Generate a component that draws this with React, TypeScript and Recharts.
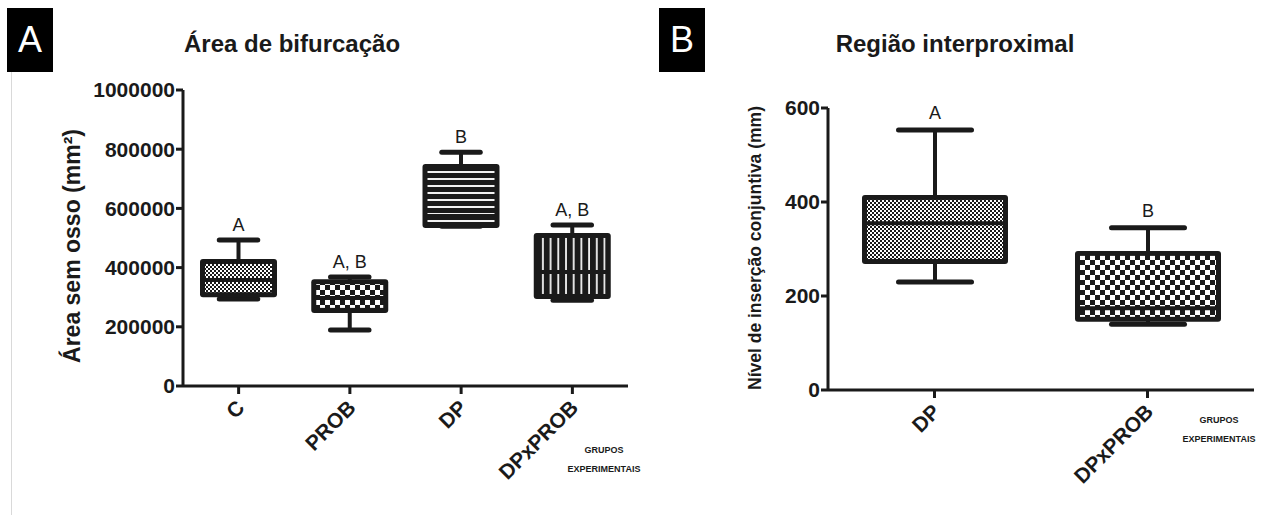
import { ComposedChart, Bar, XAxis, YAxis } from 'recharts'

document.body.style.margin = '0'

// Painel A - Área de bifurcação
const groupsA = ['C', 'PROB', 'DP', 'DPxPROB']
const minA = [294000, 189000, 540000, 290000]
const q1A = [300000, 247000, 534000, 294000]
const medA = [358000, 297000, 574000, 385000]
const q3A = [429000, 361000, 750000, 517000]
const maxA = [493000, 368000, 790000, 544000]
const lettersA = ['A', 'A, B', 'B', 'A, B']
const ticksA = [0, 200000, 400000, 600000, 800000, 1000000]

// Painel B - Região interproximal
const groupsB = ['DP', 'DPxPROB']
const minB = [230, 140]
const q1B = [268, 145]
const medB = [355, 174]
const q3B = [415, 296]
const maxB = [553, 345]
const lettersB = ['A', 'B']
const ticksB = [0, 200, 400, 600]

const fillsA = ['url(#chkFine)', 'url(#chkMed)', 'url(#hStripe)', 'url(#vStripe)']
const fillsB = ['url(#chkFine)', 'url(#chkBig)']

const FONT = '"Liberation Sans", Arial, sans-serif'
const INK = '#1a1a1a'

const dataA = groupsA.map((g, i) => ({
  group: g, box: [q1A[i], q3A[i]], min: minA[i], med: medA[i], max: maxA[i], letter: lettersA[i],
}))
const dataB = groupsB.map((g, i) => ({
  group: g, box: [q1B[i], q3B[i]], min: minB[i], med: medB[i], max: maxB[i], letter: lettersB[i],
}))

function Patterns() {
  return (
    <defs>
      <pattern id="chkFine" width="4" height="4" patternUnits="userSpaceOnUse">
        <rect width="4" height="4" fill="#fff" />
        <rect width="2" height="2" fill={INK} />
        <rect x="2" y="2" width="2" height="2" fill={INK} />
      </pattern>
      <pattern id="chkMed" width="10" height="10" patternUnits="userSpaceOnUse">
        <rect width="10" height="10" fill="#fff" />
        <rect width="5" height="5" fill={INK} />
        <rect x="5" y="5" width="5" height="5" fill={INK} />
      </pattern>
      <pattern id="chkBig" width="10" height="10" patternUnits="userSpaceOnUse">
        <rect width="10" height="10" fill="#fff" />
        <rect width="5" height="5" fill={INK} />
        <rect x="5" y="5" width="5" height="5" fill={INK} />
      </pattern>
      <pattern id="hStripe" width="8" height="7" patternUnits="userSpaceOnUse">
        <rect width="8" height="7" fill={INK} />
        <rect y="3" width="8" height="2" fill="#f2f2f2" />
      </pattern>
      <pattern id="vStripe" width="7.7" height="8" patternUnits="userSpaceOnUse">
        <rect width="7.7" height="8" fill={INK} />
        <rect x="3" width="1.8" height="8" fill="#f2f2f2" />
      </pattern>
    </defs>
  )
}

// eslint-disable-next-line @typescript-eslint/no-explicit-any
function BoxShape(props: any) {
  const { x, y, width, height, payload, fill, letterGap } = props
  const [lo, hi] = payload.box
  const top = Math.min(y, y + height)
  const k = Math.abs(height) / (hi - lo)
  const py = (v: number) => top + (hi - v) * k
  const cx = x + width / 2
  const capHalf = width / 4
  return (
    <g>
      <line x1={cx} x2={cx} y1={py(payload.max)} y2={py(payload.min)} stroke={INK} strokeWidth={4} />
      <line x1={cx - capHalf} x2={cx + capHalf} y1={py(payload.max)} y2={py(payload.max)} stroke={INK} strokeWidth={5} strokeLinecap="round" />
      <line x1={cx - capHalf} x2={cx + capHalf} y1={py(payload.min)} y2={py(payload.min)} stroke={INK} strokeWidth={5} strokeLinecap="round" />
      <rect x={x} y={py(hi)} width={width} height={py(lo) - py(hi)} fill={INK} rx={3} />
      <rect x={x + 5} y={py(hi) + 5} width={width - 10} height={py(lo) - py(hi) - 10} fill={fill} />
      <line x1={x + 3} x2={x + width - 3} y1={py(payload.med)} y2={py(payload.med)} stroke={INK} strokeWidth={4} />
      <text x={cx} y={py(payload.max) - letterGap} textAnchor="middle" fontFamily={FONT} fontSize={18} fill={INK}>
        {payload.letter}
      </text>
    </g>
  )
}

// eslint-disable-next-line @typescript-eslint/no-explicit-any
function RotTick(props: any) {
  const { x, y, payload } = props
  const ax = x + 7
  const ay = y + 13
  return (
    <text x={ax} y={ay} transform={`rotate(-45, ${ax}, ${ay})`} textAnchor="end" fontFamily={FONT}
      fontWeight="bold" fontSize={21} fill={INK}>
      {payload.value}
    </text>
  )
}

const yTick = { fontFamily: FONT, fontWeight: 'bold', fontSize: 21, fill: INK }
const axisLine = { stroke: INK, strokeWidth: 3 }

function PanelLabel({ left, text }: { left: number, text: string }) {
  return (
    <div style={{
      position: 'absolute', left, top: 8, width: 46, height: 64, background: '#000', color: '#fff',
      fontFamily: FONT, fontSize: 36, lineHeight: '64px', textAlign: 'center',
    }}>{text}</div>
  )
}

function Title({ cx, text }: { cx: number, text: string }) {
  return (
    <div style={{
      position: 'absolute', left: cx, top: 30, transform: 'translateX(-50%)', whiteSpace: 'nowrap',
      fontFamily: FONT, fontWeight: 'bold', fontSize: 24, color: INK,
    }}>{text}</div>
  )
}

function YLabel({ cx, cy, size, text }: { cx: number, cy: number, size: number, text: React.ReactNode }) {
  return (
    <div style={{
      position: 'absolute', left: cx, top: cy, transform: 'translate(-50%, -50%) rotate(-90deg)',
      whiteSpace: 'nowrap', fontFamily: FONT, fontWeight: 'bold', fontSize: size, color: INK,
    }}>{text}</div>
  )
}

function Grupos({ cx, top }: { cx: number, top: number }) {
  const s = { fontFamily: FONT, fontWeight: 'bold' as const, fontSize: 9, color: INK, textAlign: 'center' as const }
  return (
    <div style={{ position: 'absolute', left: cx, top, transform: 'translateX(-50%)', lineHeight: '19px', ...s }}>
      <div>GRUPOS</div>
      <div>EXPERIMENTAIS</div>
    </div>
  )
}

export default function App() {
  return (
    <div style={{ position: 'relative', width: 1263, height: 521, background: '#fff', overflow: 'hidden' }}>
      <div style={{ position: 'absolute', left: 11, top: 72, width: 1, height: 443, background: '#d9d9d9' }} />
      <PanelLabel left={7} text="A" />
      <PanelLabel left={659} text="B" />
      <Title cx={292} text="Área de bifurcação" />
      <Title cx={955} text="Região interproximal" />
      <YLabel cx={72} cy={246} size={23} text={<>Área sem osso (mm²)</>} />
      <YLabel cx={755} cy={248} size={17.5} text="Nível de inserção conjuntiva (mm)" />

      <div style={{ position: 'absolute', left: 0, top: 0 }}>
        <ComposedChart width={640} height={521} data={dataA} margin={{ top: 90, right: 12, bottom: 35, left: 0 }}>
          <Patterns />
          <XAxis dataKey="group" height={100} axisLine={axisLine} tickLine={axisLine} tickSize={8}
            tick={<RotTick />} interval={0} />
          <YAxis width={183} domain={[0, 1000000]} ticks={ticksA} axisLine={axisLine} tickLine={axisLine}
            tickSize={7} tickMargin={1} tick={yTick} />
          <Bar dataKey="box" barSize={77} isAnimationActive={false}
            // eslint-disable-next-line @typescript-eslint/no-explicit-any
            shape={(p: any) => <BoxShape {...p} fill={fillsA[p.index]} letterGap={9} />} />
        </ComposedChart>
      </div>

      <div style={{ position: 'absolute', left: 640, top: 0 }}>
        <ComposedChart width={623} height={521} data={dataB} margin={{ top: 108, right: 9, bottom: 31, left: 0 }}>
          <XAxis dataKey="group" height={100} axisLine={axisLine} tickLine={axisLine} tickSize={8}
            tick={<RotTick />} interval={0} />
          <YAxis width={188} domain={[0, 600]} ticks={ticksB} axisLine={axisLine} tickLine={axisLine}
            tickSize={7} tickMargin={1} tick={yTick} />
          <Bar dataKey="box" barSize={146} isAnimationActive={false}
            // eslint-disable-next-line @typescript-eslint/no-explicit-any
            shape={(p: any) => <BoxShape {...p} fill={fillsB[p.index]} letterGap={11} />} />
        </ComposedChart>
      </div>

      <Grupos cx={604} top={441} />
      <Grupos cx={1219} top={411} />
    </div>
  )
}
